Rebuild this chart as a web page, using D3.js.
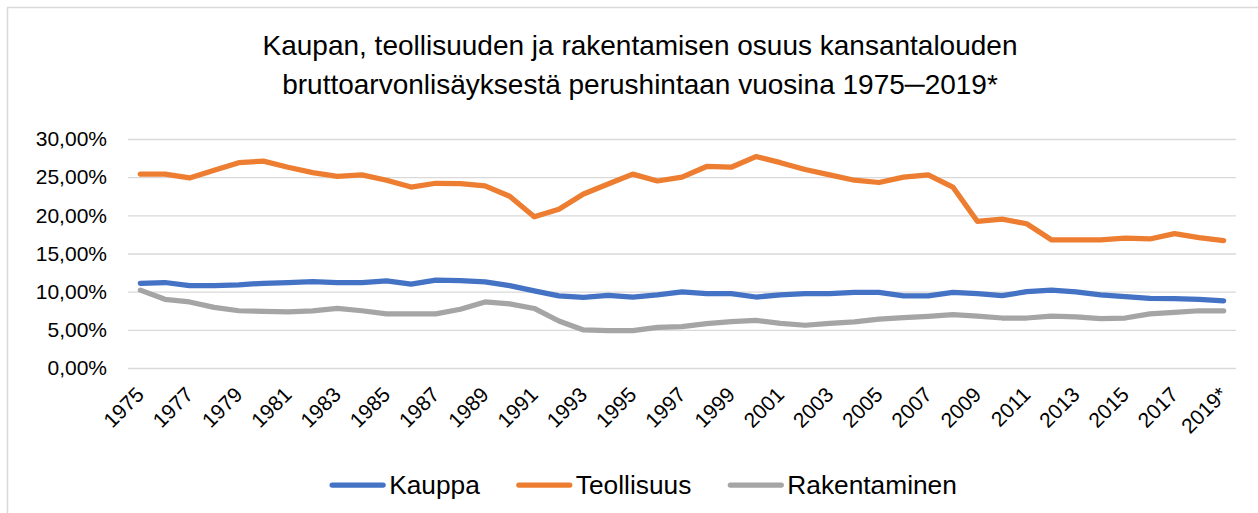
<!DOCTYPE html>
<html>
<head>
<meta charset="utf-8">
<script src="https://cdn.jsdelivr.net/npm/d3@7"></script>
<style>
    html, body { margin: 0; padding: 0; background: #fff; }
    svg { display: block; font-family: "Liberation Sans", Arial, sans-serif; }
</style>
</head>
<body>
<div id="draw"></div>
<script>
var years = ['1975', '1976', '1977', '1978', '1979', '1980', '1981', '1982', '1983', '1984',
    '1985', '1986', '1987', '1988', '1989', '1990', '1991', '1992', '1993', '1994',
    '1995', '1996', '1997', '1998', '1999', '2000', '2001', '2002', '2003', '2004',
    '2005', '2006', '2007', '2008', '2009', '2010', '2011', '2012', '2013', '2014',
    '2015', '2016', '2017', '2018', '2019*'];

// shares in percent
var kauppa = [11.1, 11.2, 10.8, 10.8, 10.9, 11.1, 11.2, 11.3, 11.2, 11.2,
    11.4, 11.0, 11.5, 11.45, 11.27, 10.8, 10.1, 9.44, 9.26, 9.5,
    9.3, 9.57, 9.96, 9.74, 9.74, 9.3, 9.57, 9.74, 9.74, 9.9,
    9.9, 9.44, 9.44, 9.9, 9.74, 9.48, 10.0, 10.2, 9.96, 9.57,
    9.35, 9.13, 9.1, 9.0, 8.8];
var teollisuus = [25.4, 25.4, 24.9, 25.9, 26.9, 27.1, 26.3, 25.6, 25.1, 25.3,
    24.6, 23.7, 24.2, 24.15, 23.85, 22.5, 19.8, 20.8, 22.8, 24.1,
    25.4, 24.5, 25.0, 26.4, 26.3, 27.7, 26.9, 26.0, 25.3, 24.6,
    24.3, 25.0, 25.3, 23.7, 19.2, 19.5, 18.9, 16.8, 16.8, 16.8,
    17.0, 16.9, 17.6, 17.08, 16.7];
var rakentaminen = [10.2, 9.0, 8.65, 7.95, 7.5, 7.43, 7.34, 7.47, 7.8, 7.5,
    7.08, 7.08, 7.1, 7.7, 8.65, 8.4, 7.8, 6.16, 4.98, 4.9,
    4.9, 5.33, 5.42, 5.8, 6.07, 6.25, 5.85, 5.6, 5.85, 6.05,
    6.4, 6.6, 6.77, 6.99, 6.8, 6.55, 6.55, 6.8, 6.7, 6.47,
    6.55, 7.08, 7.3, 7.5, 7.5];

var seriesNames = ['Kauppa', 'Teollisuus', 'Rakentaminen'];
var seriesColors = ['#4472C4', '#ED7D31', '#A5A5A5'];
var yTicks = [0, 5, 10, 15, 20, 25, 30];
var titleLines = ['Kaupan, teollisuuden ja rakentamisen osuus kansantalouden',
    'bruttoarvonlisäyksestä perushintaan vuosina 1975─2019*'];

(function () {
    "use strict";

    var width = 1258,
        height = 513,
        plot = {left: 128, right: 1236, top: 139, bottom: 368};

    var svg = d3.select('#draw').append('svg')
        .attr('width', width)
        .attr('height', height);

    // chart border (runs off the right and bottom edges)
    svg.append('rect')
        .attr('x', 7.5).attr('y', 7.5)
        .attr('width', 1400).attr('height', 700)
        .attr('fill', '#fff')
        .attr('stroke', '#d9d9d9')
        .attr('stroke-width', 1.5);

    var x = d3.scaleBand().domain(years).range([plot.left, plot.right]);
    var y = d3.scaleLinear().domain([0, 30]).range([plot.bottom, plot.top]);
    var cx = function (d) { return x(d) + x.bandwidth() / 2; };

    var fmt = d3.formatLocale({decimal: ',', thousands: ' ', grouping: [3], currency: ['', '']}).format('.2f');

    // title
    svg.append('g').selectAll('text').data(titleLines).enter().append('text')
        .attr('x', 640)
        .attr('y', function (d, i) { return 55 + i * 39; })
        .attr('text-anchor', 'middle')
        .attr('font-size', 28)
        .attr('fill', '#000')
        .text(function (d) { return d; });

    // y axis, gridlines only
    var yAxis = svg.append('g')
        .attr('transform', 'translate(' + plot.left + ',0)')
        .call(d3.axisLeft(y).tickValues(yTicks)
            .tickSize(-(plot.right - plot.left))
            .tickPadding(21)
            .tickFormat(function (d) { return fmt(d) + '%'; }));
    yAxis.select('.domain').remove();
    yAxis.selectAll('line').attr('stroke', '#d9d9d9').attr('stroke-width', 1.3);
    yAxis.selectAll('text')
        .attr('font-size', 21)
        .attr('font-family', '"Liberation Sans", Arial, sans-serif')
        .attr('fill', '#000');

    // x axis labels, every other year, rotated
    var xAxis = svg.append('g')
        .attr('transform', 'translate(0,' + plot.bottom + ')')
        .call(d3.axisBottom(x)
            .tickValues(years.filter(function (d, i) { return i % 2 === 0; }))
            .tickSize(0));
    xAxis.select('.domain').remove();
    xAxis.selectAll('text')
        .attr('font-size', 21)
        .attr('font-family', '"Liberation Sans", Arial, sans-serif')
        .attr('fill', '#000')
        .attr('text-anchor', 'end')
        .attr('dy', null)
        .attr('y', 0)
        .attr('transform', 'translate(5,28) rotate(-45)');

    // lines
    var data = [kauppa, teollisuus, rakentaminen];
    var line = d3.line()
        .x(function (d, i) { return cx(years[i]); })
        .y(function (d) { return y(d); });

    svg.append('g').selectAll('path').data(data).enter().append('path')
        .attr('d', line)
        .attr('fill', 'none')
        .attr('stroke', function (d, i) { return seriesColors[i]; })
        .attr('stroke-width', 5.25)
        .attr('stroke-linejoin', 'round')
        .attr('stroke-linecap', 'round');

    // legend
    var legend = svg.append('g');
    var items = legend.selectAll('g').data(seriesNames).enter().append('g');
    items.append('line')
        .attr('x1', 3).attr('x2', 54)
        .attr('y1', 0).attr('y2', 0)
        .attr('stroke', function (d, i) { return seriesColors[i]; })
        .attr('stroke-width', 5.25)
        .attr('stroke-linecap', 'round');
    items.append('text')
        .attr('x', 60)
        .attr('y', 9)
        .attr('font-size', 26.3)
        .attr('fill', '#000')
        .text(function (d) { return d; });

    var widths = [];
    items.each(function () {
        widths.push(60 + d3.select(this).select('text').node().getComputedTextLength());
    });
    var gap = 36,
        total = d3.sum(widths) + gap * (widths.length - 1),
        pos = 643 - total / 2;
    items.attr('transform', function (d, i) {
        var t = 'translate(' + pos + ',485)';
        pos += widths[i] + gap;
        return t;
    });
}());
</script>
</body>
</html>
